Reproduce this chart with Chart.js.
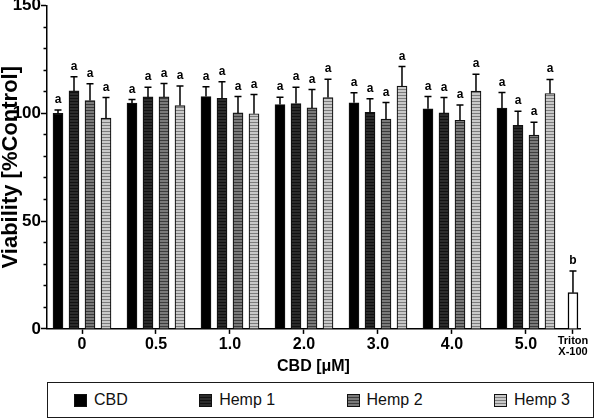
<!DOCTYPE html>
<html>
<head>
<meta charset="utf-8">
<script src="https://cdn.jsdelivr.net/npm/chart.js@4.4.1/dist/chart.umd.min.js"></script>
<style>
  body { margin: 0; background: #fff; }
  #wrap { position: relative; width: 597px; height: 420px; }
  #chartBox { position: absolute; left: 0; top: 0; width: 597px; height: 375px; }
  #legend {
    position: absolute; left: 47px; top: 382px; width: 547px; height: 36px;
    box-sizing: border-box; border: 1.5px solid #1a1a1a;
    display: flex; align-items: center; justify-content: space-between;
    padding: 0 23px 0 26px;
    font: 16px "Liberation Sans", Arial, sans-serif; color: #111;
  }
  .item { display: flex; align-items: center; }
  .swatch { width: 13px; height: 13px; box-sizing: border-box; border: 1px solid #111; margin-right: 7px; }
</style>
</head>
<body>
<div id="wrap">
  <div id="chartBox"><canvas id="myChart"></canvas></div>
  <div id="legend"></div>
</div>
<script>
// dose groups on the x axis, Triton X-100 is the lysis control at the end
var doses = ["0", "0.5", "1.0", "2.0", "3.0", "4.0", "5.0"];
var tritonLabel = ["Triton", "X-100"];
var yMajor = [0, 50, 100, 150];

var seriesNames = ["CBD", "Hemp 1", "Hemp 2", "Hemp 3"];

// viability [% control], bar = mean, whisker = +SD
var cbd     = [100.0, 104.7, 107.8, 104.1, 104.9, 102.1, 102.4];
var cbdSd   = [1.5, 1.7, 4.5, 3.4, 4.6, 5.7, 7.2];
var hemp1   = [110.4, 107.6, 107.0, 104.5, 100.5, 100.2, 94.4];
var hemp1Sd = [6.6, 4.5, 7.6, 7.6, 6.2, 7.1, 6.6];
var hemp2   = [105.9, 107.6, 100.2, 102.5, 97.3, 96.8, 89.9];
var hemp2Sd = [7.8, 6.2, 7.6, 8.5, 7.7, 7.1, 6.0];
var hemp3   = [97.8, 103.6, 99.8, 107.3, 112.6, 110.3, 109.2];
var hemp3Sd = [9.5, 9.1, 8.9, 8.5, 9.1, 7.8, 6.5];
var triton   = [16.8];
var tritonSd = [10.0];

// significance letters
var cbdSig    = ["a", "a", "a", "a", "a", "a", "a"];
var hemp1Sig  = ["a", "a", "a", "a", "a", "a", "a"];
var hemp2Sig  = ["a", "a", "a", "a", "a", "a", "a"];
var hemp3Sig  = ["a", "a", "a", "a", "a", "a", "a"];
var tritonSig = ["b"];

var FONT = "'Liberation Sans', Arial, Helvetica, sans-serif";
Chart.defaults.font.family = FONT;
Chart.defaults.color = "#000";

// fill looks: [base, stripe] (null stripe = solid)
var looks = [["#000", null], ["#2c2c2c", "#111"], ["#7a7a7a", "#3c3c3c"], ["#c8c8c8", "#7c7c7c"]];

function stripes(look) {
  if (!look[1]) return look[0];
  var c = document.createElement("canvas");
  c.width = 4; c.height = 3;
  var g = c.getContext("2d");
  g.fillStyle = look[0]; g.fillRect(0, 0, 4, 3);
  g.fillStyle = look[1]; g.fillRect(0, 2, 4, 1);
  return g.createPattern(c, "repeat");
}

// slot of the Triton bar on the x scale (it sits closer than the dose groups)
var tritonPos = 6.635;
var xMin = -0.473, xMax = 6.73;

function pts(arr) {
  return arr.map(function(v, i) { return { x: i, y: v }; });
}

var means = [cbd, hemp1, hemp2, hemp3];
var sds = [cbdSd, hemp1Sd, hemp2Sd, hemp3Sd];
var sigs = [cbdSig, hemp1Sig, hemp2Sig, hemp3Sig];

var datasets = seriesNames.map(function(name, k) {
  return {
    label: name,
    data: pts(means[k]),
    sd: sds[k],
    letters: sigs[k],
    backgroundColor: stripes(looks[k]),
    borderColor: "#111",
    borderWidth: 1.2,
    barThickness: 16,
    maxBarThickness: 10
  };
});
// the control bar stands alone, so it is not grouped with the four series
datasets.push({
  label: "Triton X-100",
  data: [{ x: tritonPos, y: triton[0] }],
  sd: tritonSd,
  letters: tritonSig,
  grouped: false,
  backgroundColor: "#fff",
  borderColor: "#000",
  borderWidth: 1.5,
  barThickness: 10
});

// whiskers (+SD) and letters above them
var whiskers = {
  id: "whiskers",
  afterDatasetsDraw: function(chart) {
    var ctx = chart.ctx;
    var y = chart.scales.y;
    ctx.save();
    ctx.strokeStyle = "#000";
    ctx.fillStyle = "#000";
    ctx.lineWidth = 1.5;
    ctx.font = "bold 12px " + FONT;
    ctx.textAlign = "center";
    ctx.textBaseline = "alphabetic";
    chart.data.datasets.forEach(function(ds, i) {
      chart.getDatasetMeta(i).data.forEach(function(bar, j) {
        var top = y.getPixelForValue(ds.data[j].y + ds.sd[j]);
        ctx.beginPath();
        ctx.moveTo(bar.x, bar.y);
        ctx.lineTo(bar.x, top);
        ctx.moveTo(bar.x - 3.5, top);
        ctx.lineTo(bar.x + 3.5, top);
        ctx.stroke();
        ctx.fillText(ds.letters[j], bar.x, top - 7);
      });
    });
    ctx.restore();
  }
};

var tickSlots = doses.map(function(d, i) { return i; }).concat([tritonPos]);

new Chart("myChart", {
  type: "bar",
  data: { datasets: datasets },
  plugins: [whiskers],
  options: {
    responsive: true,
    maintainAspectRatio: false,
    animation: false,
    events: [],
    layout: { padding: { left: 0, right: 17, top: 0, bottom: 0 } },
    plugins: { legend: { display: false }, tooltip: { enabled: false } },
    scales: {
      x: {
        type: "linear",
        min: xMin, max: xMax,
        bounds: "data",
        offset: false,
        afterBuildTicks: function(scale) {
          scale.ticks = tickSlots.map(function(v) { return { value: v }; });
        },
        grid: { offset: false, drawOnChartArea: false, tickLength: 5, tickWidth: 1.5, tickColor: "#000" },
        border: { color: "#000", width: 1.5 },
        ticks: {
          autoSkip: false, maxRotation: 0, padding: 1, color: "#000",
          font: function(c) {
            return c.index === doses.length
              ? { size: 11, weight: "bold", lineHeight: 1.05 }
              : { size: 16, weight: "bold", lineHeight: 1.2 };
          },
          callback: function(v, i) { return i < doses.length ? doses[i] : tritonLabel; }
        },
        title: { display: true, text: "CBD [\u03bcM]", color: "#000", padding: 0,
                 font: { size: 16, weight: "bold", lineHeight: 1 } }
      },
      y: {
        min: 0, max: 150,
        ticks: {
          stepSize: 10, autoSkip: false, padding: 0, color: "#000",
          font: { size: 17, weight: "bold", lineHeight: 0.65 },
          callback: function(v) { return yMajor.indexOf(v) >= 0 ? v : ""; }
        },
        grid: {
          drawOnChartArea: false, tickLength: 6, tickWidth: 1.5, tickColor: "#000",
          tickBorderDash: function(c) {
            return c.tick && yMajor.indexOf(c.tick.value) < 0 ? [0, 2.5, 5, 10] : [];
          }
        },
        border: { color: "#000", width: 1.5 },
        title: { display: true, text: "Viability [%Control]", color: "#000", padding: 0,
                 font: { size: 22, weight: "bold", lineHeight: 1 } },
        afterFit: function(scale) { scale.width = 47; }
      }
    }
  }
});

// legend box under the chart
var legend = document.getElementById("legend");
seriesNames.forEach(function(name, k) {
  var look = looks[k];
  var bg = look[1]
    ? "repeating-linear-gradient(to bottom, " + look[0] + " 0 2px, " + look[1] + " 2px 3px)"
    : look[0];
  var item = document.createElement("div");
  item.className = "item";
  item.innerHTML = '<span class="swatch" style="background:' + bg + '"></span><span>' + name + "</span>";
  legend.appendChild(item);
});
</script>
</body>
</html>
